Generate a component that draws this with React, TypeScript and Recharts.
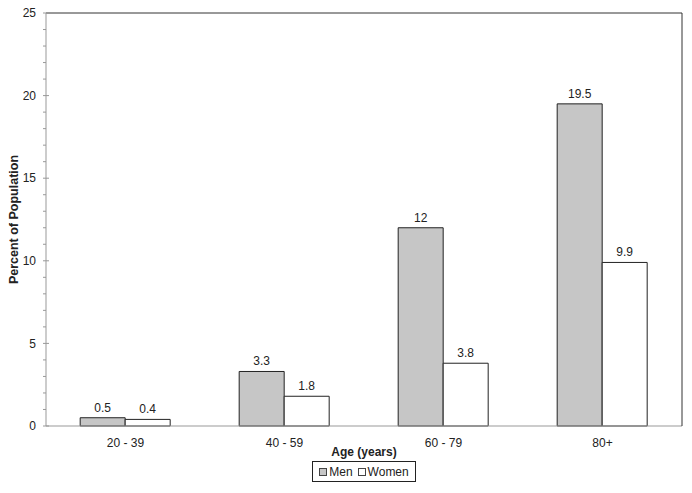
import React from 'react';
import { BarChart, Bar, XAxis, YAxis, LabelList, Legend } from 'recharts';

const categories = ['20 - 39', '40 - 59', '60 - 79', '80+'];
const menValues = [0.5, 3.3, 12, 19.5];
const womenValues = [0.4, 1.8, 3.8, 9.9];
const yMajorTicks = [0, 5, 10, 15, 20, 25];
const yAllTicks = Array.from({ length: 26 }, (_, i) => i);
const boundaryTicks = [1, 2, 3];

const data = categories.map((c, i) => ({ age: c, Men: menValues[i], Women: womenValues[i] }));

const FONT = '"Liberation Sans", Arial, sans-serif';
const TEXT = '#222';

const YTick = (props: any) => {
  const { x, y, payload } = props;
  const v = payload.value;
  const major = yMajorTicks.includes(v);
  return (
    <g>
      <line x1={x - 3} x2={major ? x + 3 : x} y1={y} y2={y} stroke="#999" />
      {major && (
        <text x={x - 10} y={y} dy="0.35em" textAnchor="end" fill={TEXT} fontSize={12} fontFamily={FONT}>
          {v}
        </text>
      )}
    </g>
  );
};

const LegendContent = () => (
  <div
    style={{
      border: '1px solid #222',
      width: 104,
      height: 21,
      boxSizing: 'border-box',
      display: 'flex',
      alignItems: 'center',
      justifyContent: 'center',
      fontFamily: FONT,
      fontSize: 12,
      color: TEXT,
      background: '#fff',
    }}
  >
    <span style={{ display: 'inline-block', width: 6, height: 6, border: '1px solid #444', background: '#c6c6c6', marginRight: 2 }} />
    <span style={{ marginRight: 5 }}>Men</span>
    <span style={{ display: 'inline-block', width: 6, height: 6, border: '1px solid #444', background: '#fff', marginRight: 2 }} />
    <span>Women</span>
  </div>
);

export default function App() {
  return (
    <div style={{ position: 'fixed', left: 0, top: 0, width: 692, height: 493, background: '#fff' }}>
      <BarChart
        width={692}
        height={493}
        data={data}
        margin={{ top: 12, right: 9, bottom: 0, left: 0 }}
        barCategoryGap="21.5%"
        barGap={0}
        style={{ fontFamily: FONT }}
      >
        <XAxis
          xAxisId="bound"
          type="number"
          domain={[0, 4]}
          ticks={boundaryTicks}
          height={1}
          axisLine={{ stroke: '#999' }}
          tickLine={{ stroke: '#999' }}
          tickSize={4}
          tick={false}
        />
        <XAxis
          xAxisId="cat"
          dataKey="age"
          height={66}
          axisLine={false}
          tickLine={false}
          tick={{ fill: TEXT, fontSize: 12 }}
          tickMargin={5}
          label={{ value: 'Age (years)', position: 'insideTop', offset: 20, fill: TEXT, fontSize: 12, fontWeight: 'bold' }}
        />
        <XAxis
          xAxisId="top"
          orientation="top"
          dataKey="age"
          height={1}
          axisLine={{ stroke: '#333' }}
          tickLine={false}
          tick={false}
        />
        <YAxis
          yAxisId="main"
          domain={[0, 25]}
          ticks={yAllTicks}
          interval={0}
          width={46}
          axisLine={{ stroke: '#999' }}
          tickLine={false}
          tickSize={0}
          tickMargin={0}
          tick={<YTick />}
          label={{ value: 'Percent of Population', angle: -90, position: 'insideLeft', offset: 14, fill: TEXT, fontSize: 12.5, fontWeight: 'bold', style: { textAnchor: 'middle' } }}
        />
        <YAxis
          yAxisId="right"
          orientation="right"
          domain={[0, 25]}
          width={1}
          axisLine={{ stroke: '#333' }}
          tickLine={false}
          tick={false}
        />
        <Bar xAxisId="cat" yAxisId="main" dataKey="Men" fill="#c6c6c6" stroke="#222" strokeWidth={1} isAnimationActive={false}>
          <LabelList dataKey="Men" position="top" offset={6} fill={TEXT} fontSize={12} />
        </Bar>
        <Bar xAxisId="cat" yAxisId="main" dataKey="Women" fill="#fff" stroke="#222" strokeWidth={1} isAnimationActive={false}>
          <LabelList dataKey="Women" position="top" offset={6} fill={TEXT} fontSize={12} />
        </Bar>
        <Legend
          layout="horizontal"
          verticalAlign="middle"
          align="center"
          content={<LegendContent />}
          wrapperStyle={{ position: 'absolute', left: 312, top: 461, width: 104, height: 21 }}
        />
      </BarChart>
    </div>
  );
}
